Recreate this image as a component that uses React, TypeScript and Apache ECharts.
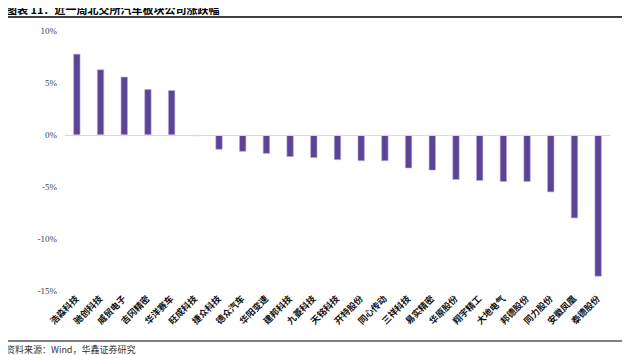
import React, { useEffect, useRef } from "react";
import * as echarts from "echarts";

const categories = ["浩淼科技", "驰创科技", "威贸电子", "吉冈精密", "华洋赛车", "旺成科技", "捷众科技", "德众汽车", "华阳变速", "建邦科技", "九菱科技", "天铭科技", "开特股份", "同心传动", "三祥科技", "易实精密", "华原股份", "翔宇精工", "大地电气", "邦德股份", "同力股份", "安徽凤凰", "泰德股份"];
const changes = [7.8, 6.3, 5.6, 4.4, 4.3, -0.1, -1.4, -1.6, -1.8, -2.1, -2.2, -2.4, -2.5, -2.5, -3.2, -3.4, -4.3, -4.4, -4.5, -4.5, -5.5, -8.0, -13.6];
const title = "图表 11：近一周北交所汽车板块公司涨跌幅";
const source = "资料来源：Wind，华鑫证券研究";

export default function App() {
  const ref = useRef<HTMLDivElement>(null);
  useEffect(() => {
    const chart = echarts.init(ref.current!, null, { renderer: "svg" });
    chart.setOption({
      animation: false,
      backgroundColor: "#ffffff",
      grid: { left: 65, right: 20, top: 31, bottom: 64 },
      graphic: [
        {
          type: "text", x: 6, y: 9,
          style: { text: title, fontSize: 11, fontWeight: "bold", fontFamily: "'Noto Sans CJK SC'", fill: "#000", textAlign: "left", textVerticalAlign: "middle" },
        },
        { type: "line", shape: { x1: 0, y1: 17, x2: 630, y2: 17 }, style: { stroke: "#000", lineWidth: 1.5 } },
        { type: "line", shape: { x1: 0, y1: 341, x2: 630, y2: 341 }, style: { stroke: "#000", lineWidth: 1 } },
        {
          type: "text", x: 6, y: 349,
          style: { text: source, fontSize: 9, fontFamily: "'Noto Sans CJK SC'", fill: "#333", textAlign: "left", textVerticalAlign: "middle" },
        },
      ],
      xAxis: {
        type: "category",
        data: categories,
        position: "bottom",
        axisLine: { show: false, onZero: false },
        axisTick: { show: false },
        axisLabel: {
          rotate: 45,
          interval: 0,
          margin: 6,
          fontSize: 9,
          fontWeight: "bold",
          fontFamily: "'Noto Sans CJK SC'",
          color: "#111",
        },
      },
      yAxis: {
        type: "value",
        min: -15,
        max: 10,
        interval: 5,
        axisLine: { show: false },
        axisTick: { show: false },
        splitLine: { show: false },
        axisLabel: {
          formatter: "{value}%",
          fontSize: 9,
          fontFamily: "'Liberation Serif'",
          color: "#444",
          margin: 8,
        },
      },
      series: [
        {
          type: "bar",
          data: changes,
          barWidth: 7,
          itemStyle: { color: "#5b4496", borderColor: "#b8a8de", borderWidth: 0.6 },
          markLine: {
            silent: true,
            symbol: "none",
            label: { show: false },
            lineStyle: { color: "#d9d9d9", width: 1, type: "solid" },
            data: [{ yAxis: 0 }],
          },
        },
      ],
    });
    return () => chart.dispose();
  }, []);
  return <div ref={ref} style={{ width: 630, height: 355, marginLeft: -8, marginTop: -8 }} />;
}
